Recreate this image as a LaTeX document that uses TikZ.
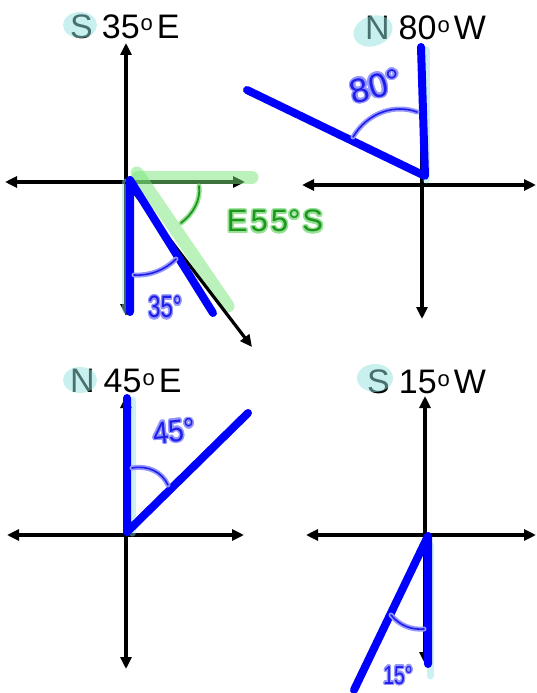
\documentclass[tikz,border=0pt]{standalone}
\usepackage{fontspec}
\setmainfont{Liberation Sans}
\usepackage{contour}
\contourlength{1.6pt}
\usetikzlibrary{arrows.meta}
\definecolor{hlcyan}{RGB}{145,225,221}
\definecolor{hlgreen}{RGB}{120,230,120}
\definecolor{pen}{RGB}{0,0,255}
\definecolor{inkblue}{RGB}{30,30,235}
\definecolor{glowblue}{RGB}{150,150,255}
\definecolor{inkgreen}{RGB}{30,150,30}
\definecolor{glowgreen}{RGB}{150,225,150}
\newcommand\dirlabel[3]{#1\hspace{9pt}#2\hspace{1pt}\raisebox{7pt}{\fontsize{22}{22}\selectfont o}\hspace{4pt}#3}
\tikzset{
  axisline/.style={line width=3.2pt, {Triangle[length=12pt,width=11pt]}-{Triangle[length=12pt,width=11pt]}},
  singlearrow/.style={line width=3.2pt, -{Triangle[length=12pt,width=11pt]}},
  ray/.style={pen, line width=8pt, line cap=round, line join=round},
  hlc/.style={hlcyan, opacity=0.45, line width=7pt, line cap=round},
  hlg/.style={hlgreen, opacity=0.5, line width=13pt, line cap=round},
  arcb/.style={inkblue, line width=1.6pt, line cap=round, preaction={draw=glowblue, line width=5pt, line cap=round}},
  arcg/.style={inkgreen, line width=1.8pt, line cap=round, preaction={draw=glowgreen, line width=5pt, line cap=round}},
  lbl/.style={font=\fontsize{34}{34}\selectfont, inner sep=0pt, anchor=base west},
  hwb/.style={font=\fontsize{31}{31}\selectfont, inner sep=0pt, text=inkblue},
  hwg/.style={font=\fontsize{31}{31}\selectfont, inner sep=0pt, text=inkgreen},
  hlspot/.style={fill=hlcyan, opacity=0.5}
}
\begin{document}
\begin{tikzpicture}[x=1pt,y=-1pt]
\useasboundingbox (0,0) rectangle (536,693);

% ---------- top-left: S 35 E ----------
\coordinate (O1) at (126,182);
\coordinate (L1) at (5,182);
\coordinate (R1) at (245,182);
\coordinate (T1) at (126,43);
\coordinate (B1) at (126,316);
\coordinate (A1) at (252,347);
\coordinate (V1) at (130,180);
\coordinate (D1) at (130,312);
\coordinate (S1) at (213,313);
\draw[axisline] (L1) -- (R1);
\draw[axisline] (T1) -- (B1);
\draw[hlc] (125,182) -- (125,310);
\draw[hlg] (138,177) -- (252,177);
\draw[hlg] (137,173) -- (228,306);
\draw[singlearrow] (O1) -- (A1);
\draw[ray] (D1) -- (V1) -- (S1);
\draw[arcb] (134,275) .. controls (150,276) and (165,270) .. (176,259);
\draw[arcg] (199,186) .. controls (201,200) and (193,214) .. (181,223);
\node[lbl] (lab1) at (70,38) {\dirlabel{S}{35}{E}};
\fill[hlspot] (80,25) ellipse [x radius=17pt, y radius=13pt];
\node[hwb, xscale=0.72] (hw1) at (165,308) {\contour{glowblue}{35°}};
\node[hwg] (hw2) at (275,222) {\contour{glowgreen}{E\kern3pt5\kern3pt5°\kern2ptS}};

% ---------- top-right: N 80 W ----------
\coordinate (L2) at (302,185);
\coordinate (R2) at (536,185);
\coordinate (T2) at (422,50);
\coordinate (B2) at (422,319);
\coordinate (V2) at (425,176);
\coordinate (U2) at (421,47);
\coordinate (W2) at (247,90);
\draw[axisline] (L2) -- (R2);
\draw[singlearrow] (T2) -- (B2);
\draw[hlc] (426,50) -- (426,180);
\draw[ray] (U2) -- (V2) -- (W2);
\draw[arcb] (353,137) .. controls (368,112) and (395,104) .. (417,112);
\node[lbl] (lab2) at (365,40) {\dirlabel{N}{80}{W}};
\fill[hlspot, rotate around={20:(373,31)}] (373,31) ellipse [x radius=20pt, y radius=15pt];
\node[hwb, rotate=15, font=\fontsize{34}{34}\selectfont] (hw3) at (376,87) {\contour{glowblue}{80°}};

% ---------- bottom-left: N 45 E ----------
\coordinate (L3) at (7,535);
\coordinate (R3) at (244,535);
\coordinate (T3) at (126,396);
\coordinate (B3) at (126,669);
\coordinate (V3) at (127,532);
\coordinate (U3) at (127,398);
\coordinate (E3) at (248,413);
\draw[axisline] (L3) -- (R3);
\draw[axisline] (T3) -- (B3);
\draw[hlc] (132,400) -- (132,533);
\draw[ray] (U3) -- (V3) -- (E3);
\draw[arcb] (132,468) .. controls (148,465) and (162,472) .. (168,485);
\node[lbl] (lab3) at (70,392) {\dirlabel{N}{45}{E}};
\fill[hlspot] (80,380) ellipse [x radius=17pt, y radius=13pt];
\node[hwb, rotate=6, xscale=0.9] (hw4) at (174,432) {\contour{glowblue}{45°}};

% ---------- bottom-right: S 15 W ----------
\coordinate (L4) at (306,535);
\coordinate (R4) at (536,535);
\coordinate (T4) at (425,396);
\coordinate (B4) at (425,664);
\coordinate (V4) at (428,536);
\coordinate (D4) at (428,664);
\coordinate (W4) at (354,690);
\draw[axisline] (L4) -- (R4);
\draw[axisline] (T4) -- (B4);
\draw[hlc] (430,545) -- (430,676);
\draw[ray] (D4) -- (V4) -- (W4);
\draw[arcb] (391,615) .. controls (400,626) and (412,630) .. (424,629);
\node[lbl] (lab4) at (367,393) {\dirlabel{S}{15}{W}};
\fill[hlspot] (375,378) ellipse [x radius=18pt, y radius=14pt];
\node[hwb, xscale=0.75, font=\fontsize{26}{26}\selectfont] (hw5) at (398,676) {\contour{glowblue}{15°}};
\end{tikzpicture}
\end{document}
